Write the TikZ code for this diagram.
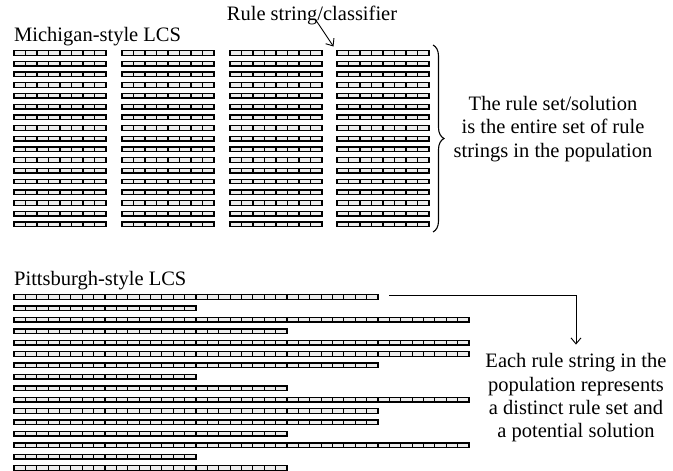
\documentclass[tikz,border=0pt]{standalone}
\usepackage{fontspec}
\setmainfont{Liberation Serif}
\usetikzlibrary{arrows.meta,decorations.pathreplacing,calc}
\begin{document}
\begin{tikzpicture}[x=1pt,y=-1pt,
  lbl/.style={font=\fontsize{20.5}{23.3}\selectfont, inner sep=0pt},
  cellbox/.style={fill=black!7, draw=black, line width=1.3pt},
  celldiv/.style={draw=black, line width=1.2pt},
  rulesep/.style={draw=black, line width=2.2pt},
  pointer/.style={draw=black, line width=0.9pt, -{Straight Barb[length=6pt,width=10pt]}},
  bracket/.style={draw=black, line width=1.1pt, decorate, decoration={brace, amplitude=11pt, aspect=0.5}}]
\useasboundingbox (0,0) rectangle (673,471);

% Michigan population: four columns of 8-bit classifiers
\foreach \cx in {14,122,230,337}{
  \foreach \r in {0,...,16}{
    \pgfmathsetmacro\cy{53+\r*10.71}
    \draw[cellbox] (\cx,\cy-2.3) rectangle ++(92,4.6);
    \foreach \k in {1,...,7}{\draw[celldiv] (\cx+\k*11.5,\cy-2.3) -- ++(0,4.6);}
  }
}

% Pittsburgh population: each string is a variable number of 8-bit rules
\foreach \n [count=\r from 0] in {4,2,5,3,5,5,4,2,3,5,4,4,3,5,2,3}{
  \pgfmathsetmacro\cy{297+\r*11.4}
  \pgfmathsetmacro\w{91*\n}
  \draw[cellbox] (14,\cy-2.3) rectangle ++(\w,4.6);
  \pgfmathtruncatemacro\m{8*\n-1}
  \foreach \k in {1,...,\m}{\draw[celldiv] (14+\k*11.375,\cy-2.3) -- ++(0,4.6);}
  \pgfmathtruncatemacro\s{\n-1}
  \foreach \j in {1,...,\s}{\draw[rulesep] (14+\j*91,\cy-2.3) -- ++(0,4.6);}
}

% Labels
\node[lbl, anchor=base west] (michigan) at (14,41.7) {Michigan-style LCS};
\node[lbl, anchor=base] (classifier) at (312,20.7) {Rule string/classifier};
\coordinate (ruletip) at (333.5,46.5);
\draw[pointer] ($(classifier.south)+(4,-5)$) -- (ruletip);

\draw[bracket] (433,45) -- (433,232);
\node[lbl, align=center] (michtext) at (553,129)
  {The rule set/solution\\ is the entire set of rule\\ strings in the population};

\node[lbl, anchor=base west] (pitts) at (14,285) {Pittsburgh-style LCS};
\coordinate (rowend) at (389,295);
\node[lbl, align=center] (pitttext) at (576,398)
  {Each rule string in the\\ population represents\\ a distinct rule set and\\ a potential solution};
\draw[pointer] (rowend) -| ([yshift=9pt]pitttext.north);
\end{tikzpicture}
\end{document}
